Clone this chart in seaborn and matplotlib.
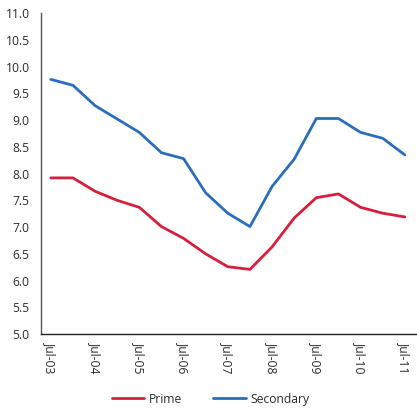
import numpy as np
import pandas as pd
import matplotlib
matplotlib.use("Agg")
import matplotlib.pyplot as plt
from matplotlib.lines import Line2D
import seaborn as sns

# Half-yearly observations, Jul-03 to Jul-11
periods = ["Jul-03", "Jan-04", "Jul-04", "Jan-05", "Jul-05", "Jan-06", "Jul-06",
           "Jan-07", "Jul-07", "Jan-08", "Jul-08", "Jan-09", "Jul-09", "Jan-10",
           "Jul-10", "Jan-11", "Jul-11"]
prime = [7.92, 7.92, 7.67, 7.50, 7.37, 7.01, 6.79, 6.50, 6.26, 6.21,
         6.63, 7.17, 7.55, 7.62, 7.37, 7.26, 7.19]
secondary = [9.76, 9.65, 9.27, 9.02, 8.77, 8.39, 8.28, 7.64, 7.26, 7.01,
             7.76, 8.27, 9.03, 9.03, 8.77, 8.66, 8.35]
yticks = [5.0, 5.5, 6.0, 6.5, 7.0, 7.5, 8.0, 8.5, 9.0, 9.5, 10.0, 10.5, 11.0]

sns.set_style("white")
plt.rcParams["font.family"] = ["Open Sans", "DejaVu Sans"]

df = pd.DataFrame({
    "idx": list(range(len(periods))) * 2,
    "value": prime + secondary,
    "series": ["Prime"] * len(prime) + ["Secondary"] * len(secondary),
})

fig = plt.figure(figsize=(4.17, 4.08), dpi=100)
ax = fig.add_axes([0.098, 0.181, 0.902, 0.787])

sns.lineplot(data=df, x="idx", y="value", hue="series",
             hue_order=["Prime", "Secondary"],
             palette=["#d81e3c", "#2a6ebb"], linewidth=2.0, ax=ax, legend=False)

fs = 8.7
ax.set_xlim(-0.45, 16.55)
ax.set_ylim(5.0, 11.0)
ax.set_yticks(yticks)
ax.set_yticklabels([f"{v:.1f}" for v in yticks], fontsize=fs, color="#2a2a2a")

lab_idx = list(range(0, len(periods), 2))
ax.set_xticks(lab_idx)
ax.set_xticklabels([periods[i] for i in lab_idx], rotation=270, fontsize=fs,
                   color="#2a2a2a", va="top", ha="center")
ax.set_xticks(np.arange(0.5, len(periods) - 0.5, 1.0), minor=True)
ax.tick_params(axis="x", which="major", length=0, pad=6)
ax.tick_params(axis="x", which="minor", direction="in", length=4,
               width=0.9, color="#222222")
ax.tick_params(axis="y", length=0, pad=8)

for s in ["top", "right"]:
    ax.spines[s].set_visible(False)
ax.spines["left"].set_color("#555555")
ax.spines["left"].set_linewidth(1.0)
ax.spines["bottom"].set_color("#222222")
ax.spines["bottom"].set_linewidth(1.0)
ax.set_xlabel("")
ax.set_ylabel("")

handles = [Line2D([], [], color="#d81e3c", lw=2.0),
           Line2D([], [], color="#2a6ebb", lw=2.0)]
fig.legend(handles, ["Prime", "Secondary"], loc="center",
           bbox_to_anchor=(0.505, 0.022), ncol=2, frameon=False,
           fontsize=fs, handlelength=2.7, handletextpad=0.35,
           columnspacing=2.6, labelcolor="#2a2a2a")

fig.savefig("out.png", dpi=100)
